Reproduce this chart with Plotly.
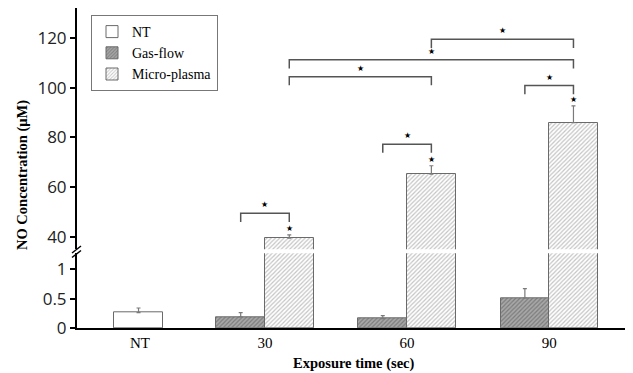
import numpy as np
import plotly.graph_objects as go

# ---------------- data ----------------
categories = ["NT", "30", "60", "90"]
nt_value = [0.26]
nt_err = [0.08]
gas_values = [0.19, 0.16, 0.51]
gas_err = [0.07, 0.05, 0.16]
micro_values = [39.4, 65.2, 86.0]
micro_err = [1.3, 3.4, 6.7]

# significance brackets: (group_a, series_a, group_b, series_b, bracket level)
brackets = [
    (1, "gas", 1, "micro", 49.4),
    (2, "gas", 2, "micro", 77.3),
    (3, "gas", 3, "micro", 100.9),
    (1, "micro", 2, "micro", 104.5),
    (1, "micro", 3, "micro", 111.3),
    (2, "micro", 3, "micro", 119.6),
]

# ---------------- styles ----------------
W = 0.342
pos = np.arange(len(categories), dtype=float)
nt_shift = 0.11
serif = "Liberation Serif"
sans = "Open Sans"
edge = "#6a6a6a"

gas_pattern = dict(shape="/", bgcolor="#a8a8a8", fgcolor="#505050", size=3, solidity=0.4)
micro_pattern = dict(shape="/", bgcolor="#ffffff", fgcolor="#8a8a8a", size=3, solidity=0.4)

def err(arr):
    return dict(type="data", array=arr, arrayminus=[0] * len(arr), symmetric=False,
                color="#7a7a7a", thickness=1.2, width=2)

fig = go.Figure()
# bottom subplot
fig.add_trace(go.Bar(x=[pos[0] + nt_shift], y=nt_value, width=W, name="NT",
                     marker=dict(color="white", line=dict(color=edge, width=1)),
                     error_y=err(nt_err), xaxis="x", yaxis="y"))
fig.add_trace(go.Bar(x=pos[1:], y=gas_values, width=W, offset=-W, name="Gas-flow",
                     marker=dict(color="#a8a8a8", pattern=gas_pattern, line=dict(color=edge, width=1)),
                     error_y=err(gas_err), xaxis="x", yaxis="y"))
fig.add_trace(go.Bar(x=pos[1:], y=micro_values, width=W, offset=0, name="Micro-plasma",
                     marker=dict(color="white", pattern=micro_pattern, line=dict(color=edge, width=1)),
                     xaxis="x", yaxis="y"))
# top subplot
fig.add_trace(go.Bar(x=pos[1:], y=micro_values, width=W, offset=0, name="Micro-plasma",
                     showlegend=False,
                     marker=dict(color="white", pattern=micro_pattern, line=dict(color=edge, width=1)),
                     error_y=err(micro_err), xaxis="x2", yaxis="y2"))

# brackets and stars
def center(g, s):
    return pos[g] - W / 2 if s == "gas" else pos[g] + W / 2

leg = 3.5
for ga, sa, gb, sb, lvl in brackets:
    xa, xb = center(ga, sa), center(gb, sb)
    fig.add_shape(type="path", xref="x2", yref="y2",
                  path=f"M {xa},{lvl - leg} L {xa},{lvl} L {xb},{lvl} L {xb},{lvl - leg}",
                  line=dict(color="#555555", width=1.5))
    fig.add_annotation(x=(xa + xb) / 2, y=lvl + 3.4, xref="x2", yref="y2", text="★",
                       showarrow=False, font=dict(size=8, color="black", family="DejaVu Sans"))
for g, v, e in zip(range(1, 4), micro_values, micro_err):
    fig.add_annotation(x=center(g, "micro"), y=v + e + 2.6, xref="x2", yref="y2", text="★",
                       showarrow=False, font=dict(size=8, color="black", family="DejaVu Sans"))

# page offset (browser body margin) and plot-area geometry in figure pixels
OFF = 8
FW, FH = 633 - OFF, 373 - OFF
L, T, PW, PH = 69, 0, 556, 320
def px(page_x):
    return (page_x - OFF - L) / PW
def py(page_y):
    return (T + PH - (page_y - OFF)) / PH

for dy in (0, 4.5):
    fig.add_shape(type="line", xref="paper", yref="paper",
                  x0=px(72), y0=py(253 + dy), x1=px(81), y1=py(246 + dy),
                  line=dict(color="black", width=1.5))

ticks_x = list(pos)
ticks_x[0] += nt_shift + 0.01
xr = [-0.323, 3.59]
bottom_dom = [0, py(253.3)]
top_dom = [py(249.3), 1]

fig.update_layout(
    width=FW, height=FH,
    margin=dict(l=L, r=FW - L - PW, t=T, b=FH - T - PH, autoexpand=False),
    plot_bgcolor="white", paper_bgcolor="white",
    barmode="overlay", bargap=0,
    showlegend=True,
    legend=dict(x=px(91), y=py(15), xanchor="left", yanchor="top",
                bordercolor="#777777", borderwidth=1, bgcolor="white",
                font=dict(family=serif, size=14, color="black"),
                tracegroupgap=0, itemwidth=30),
    xaxis=dict(domain=[0, 1], range=xr, anchor="y", tickvals=ticks_x, ticktext=categories,
               showline=True, linecolor="black", linewidth=2, ticks="", showgrid=False,
               zeroline=False, automargin=False,
               tickfont=dict(family=serif, size=15, color="black")),
    xaxis2=dict(domain=[0, 1], range=xr, anchor="y2", side="top", matches="x",
                showline=True, linecolor="#333333", linewidth=2, ticks="", automargin=False,
                showticklabels=False, showgrid=False, zeroline=False),
    yaxis=dict(domain=bottom_dom, range=[0, 1.27], anchor="x", tickvals=[0, 0.5, 1],
               ticktext=["0", "0.5", "1"], showline=True, linecolor="black", linewidth=2,
               ticks="outside", ticklen=5, tickwidth=1.5, tickcolor="black",
               showgrid=False, zeroline=False, automargin=False,
               tickfont=dict(family=sans, size=17, color="#222222")),
    yaxis2=dict(domain=top_dom, range=[34.9, 132.2], anchor="x2", tickvals=[40, 60, 80, 100, 120],
                showline=True, linecolor="black", linewidth=2,
                ticks="outside", ticklen=5, tickwidth=1.5, tickcolor="black",
                showgrid=False, zeroline=False, automargin=False,
                tickfont=dict(family=sans, size=17, color="#222222")),
)

fig.add_annotation(x=px(22), y=py(175), xref="paper", yref="paper", xanchor="center",
                   yanchor="middle", text="<b>NO Concentration (μM)</b>", textangle=-90,
                   showarrow=False, font=dict(family=serif, size=14.5, color="black"))
fig.add_annotation(x=px(354), y=py(363), xref="paper", yref="paper", xanchor="center",
                   yanchor="middle", text="<b>Exposure time (sec)</b>", showarrow=False,
                   font=dict(family=serif, size=14.5, color="black"))

fig.write_html("out.html")
